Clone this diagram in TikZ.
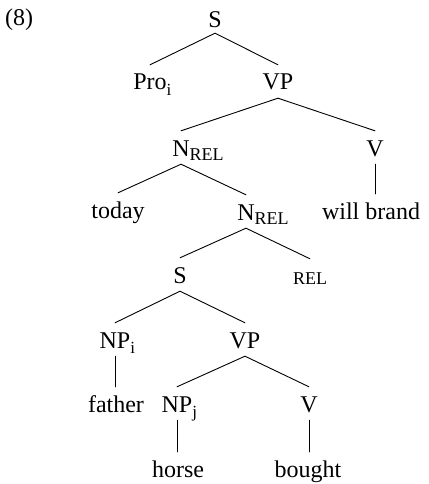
\documentclass[tikz,border=0pt]{standalone}
\usepackage{fontspec}
\setmainfont{Liberation Serif}
\newcommand{\subtxt}[2][-5.5pt]{\rlap{\raisebox{#1}{\fontsize{17}{17}\selectfont #2}}}
\newcommand{\relsub}{\rlap{\raisebox{-4.5pt}{\fontsize{18}{18}\selectfont REL}}}
\begin{document}
\begin{tikzpicture}[x=1pt,y=-1pt,
  lab/.style={anchor=base,inner sep=0pt,text height=25pt,text depth=8pt,font=\fontsize{24}{28}\selectfont},
  edge/.style={line width=0.9pt,line cap=round}]
\useasboundingbox (0,0) rectangle (428,484);
\node[lab,anchor=base west] (num) at (5,26) {(8)};
\node[lab,text depth=5pt] (s1) at (215,28) {S};
\node[lab] (pro) at (150,90) {Pro\subtxt{i}};
\node[lab] (vp1) at (278,90) {VP};
\node[lab] (nrel1) at (181,156) {N\relsub};
\node[lab] (v1) at (375,156) {V};
\node[lab] (today) at (118,218) {today};
\node[lab] (nrel2) at (246,220) {N\relsub};
\node[lab] (wb) at (371,219) {will brand};
\node[lab] (s2) at (180,283) {S};
\node[lab,font=\fontsize{18}{20}\selectfont] (rel) at (310,284) {REL};
\node[lab] (npi) at (115,348) {NP\subtxt{i}};
\node[lab] (vp2) at (245,348) {VP};
\node[lab] (father) at (116,412) {father};
\node[lab] (npj) at (177,412) {NP\subtxt{j}};
\node[lab] (v2) at (309,412) {V};
\node[lab] (horse) at (178,477) {horse};
\node[lab] (bought) at (308,477) {bought};
\draw[edge] (s1.south) -- (pro.north);
\draw[edge] (s1.south) -- (vp1.north);
\draw[edge] (vp1.south) -- (nrel1.north);
\draw[edge] (vp1.south) -- (v1.north);
\draw[edge] (v1.south) -- (v1.south |- wb.north);
\draw[edge] (nrel1.south) -- (today.north);
\draw[edge] (nrel1.south) -- (nrel2.north);
\draw[edge] (nrel2.south) -- (s2.north);
\draw[edge] (nrel2.south) -- (rel.north);
\draw[edge] (s2.south) -- (npi.north);
\draw[edge] (s2.south) -- (vp2.north);
\draw[edge] (npi.south) -- (npi.south |- father.north);
\draw[edge] (vp2.south) -- (npj.north);
\draw[edge] (vp2.south) -- (v2.north);
\draw[edge] (npj.south) -- (npj.south |- horse.north);
\draw[edge] (v2.south) -- (v2.south |- bought.north);
\end{tikzpicture}
\end{document}
